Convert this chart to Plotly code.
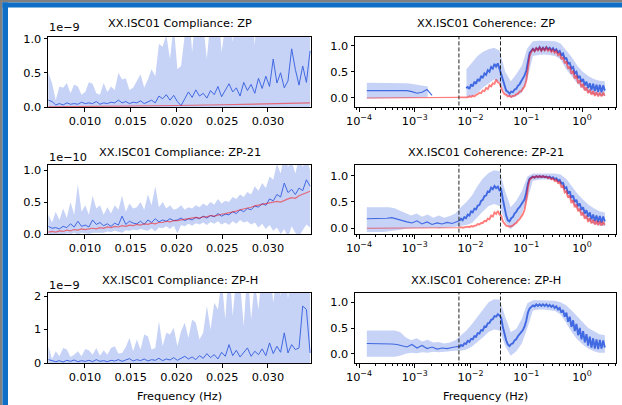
import numpy as np
import plotly.graph_objects as go

W, H = 622, 405
FONT = "DejaVu Sans"

# ---------------- data ----------------
# Compliance frequency grid (Hz) and values (scaled: x1e-9 / x1e-10 / x1e-9)
COMP_FREQ = np.linspace(0.006, 0.0346, 72)

comp_zp_mean = [0.10,0.08,0.03,0.05,0.03,0.06,0.04,0.05,0.04,0.07,
                0.05,0.06,0.05,0.08,0.04,0.06,0.05,0.07,0.06,0.10,
                0.06,0.08,0.05,0.07,0.06,0.09,0.05,0.07,0.10,0.06,
                0.16,0.12,0.18,0.10,0.17,0.08,0.02,0.12,0.22,0.14,
                0.25,0.16,0.20,0.13,0.24,0.18,0.30,0.15,0.24,0.34,
                0.22,0.28,0.16,0.36,0.24,0.33,0.20,0.42,0.27,0.45,
                0.30,0.70,0.35,0.50,0.28,0.38,0.85,0.55,0.32,0.60,
                0.36,0.82]
comp_zp_upper = [0.50,0.35,0.10,0.30,0.28,0.35,0.20,0.33,0.30,0.18,
                 0.22,0.36,0.34,0.20,0.18,0.35,0.22,0.30,0.25,0.50,
                 0.40,0.42,0.25,0.28,0.38,0.48,0.28,0.40,0.55,0.45,
                 0.92,0.88,1.05,0.70,1.20,0.55,0.60,1.30,1.50,0.80,
                 1.40,1.10,1.20,0.70,1.30,1.35,1.50,0.80,1.20,1.60,
                 0.95,1.30,1.25,1.60,1.10,1.50,0.90,1.80,1.70,1.20,
                 1.30,2.50,1.50,2.00,1.10,1.60,3.00,2.00,1.30,2.20,
                 1.40,3.00]
comp_zp_model_freq = [0.006, 0.010, 0.015, 0.020, 0.025, 0.030, 0.0346]
comp_zp_model = [0.003, 0.007, 0.013, 0.022, 0.033, 0.046, 0.060]

comp_zp21_mean = [0.12,0.09,0.10,0.08,0.12,0.10,0.16,0.11,0.20,0.12,
                  0.14,0.11,0.22,0.15,0.18,0.13,0.16,0.12,0.17,0.14,
                  0.28,0.15,0.20,0.17,0.16,0.20,0.15,0.22,0.18,0.24,
                  0.19,0.22,0.20,0.24,0.21,0.22,0.25,0.21,0.24,0.22,
                  0.26,0.24,0.28,0.25,0.29,0.27,0.32,0.28,0.31,0.30,
                  0.35,0.32,0.38,0.35,0.40,0.38,0.44,0.42,0.48,0.45,
                  0.55,0.52,0.62,0.58,0.80,0.65,0.70,0.62,0.72,0.68,
                  0.85,0.75]
comp_zp21_upper = [0.30,0.18,0.35,0.22,0.40,0.25,0.50,0.30,0.78,0.35,
                   0.45,0.30,0.60,0.40,0.45,0.30,0.42,0.32,0.45,0.38,
                   0.60,0.35,0.48,0.40,0.42,0.50,0.38,0.62,0.45,0.75,
                   0.42,0.50,0.40,0.45,0.38,0.40,0.45,0.38,0.42,0.40,
                   0.45,0.42,0.48,0.44,0.50,0.46,0.55,0.48,0.52,0.50,
                   0.58,0.55,0.62,0.58,0.66,0.62,0.75,0.68,0.80,0.72,
                   0.90,0.85,1.10,0.95,1.25,1.05,1.15,0.95,1.20,1.05,
                   1.20,1.00]
comp_zp21_lower = [-0.02,0.00,-0.01,0.00,-0.02,0.01,0.00,0.02,-0.01,0.02,
                   0.01,0.00,0.02,0.03,0.02,0.02,0.04,0.03,0.05,0.04,
                   0.02,0.06,0.05,0.07,0.06,0.08,0.06,0.05,0.09,0.04,
                   0.10,0.09,0.12,0.08,0.13,0.01,0.14,0.12,0.16,0.13,
                   0.17,0.15,0.18,0.14,0.19,0.16,0.20,0.15,0.18,0.14,
                   0.20,0.16,0.22,0.18,0.20,0.15,0.18,0.10,0.16,0.08,
                   0.14,0.05,0.10,0.00,0.08,-0.05,0.12,0.02,-0.03,0.06,
                   0.15,0.10]
comp_zp21_model = [0.03,0.04,0.03,0.05,0.04,0.06,0.05,0.07,0.06,0.08,
                   0.07,0.08,0.09,0.08,0.10,0.09,0.11,0.10,0.12,0.11,
                   0.13,0.12,0.14,0.13,0.15,0.14,0.16,0.15,0.17,0.16,
                   0.18,0.18,0.20,0.19,0.21,0.21,0.22,0.23,0.24,0.24,
                   0.26,0.25,0.27,0.27,0.29,0.28,0.30,0.31,0.32,0.33,
                   0.35,0.36,0.38,0.39,0.41,0.42,0.44,0.45,0.46,0.47,
                   0.48,0.49,0.51,0.50,0.53,0.55,0.57,0.56,0.60,0.62,
                   0.64,0.67]

comp_zph_mean = [0.10,0.06,0.04,0.07,0.03,0.08,0.05,0.09,0.04,0.07,
                 0.05,0.08,0.04,0.10,0.05,0.07,0.04,0.08,0.06,0.10,
                 0.05,0.09,0.13,0.06,0.10,0.07,0.12,0.06,0.10,0.08,
                 0.14,0.07,0.12,0.09,0.16,0.08,0.13,0.20,0.12,0.18,
                 0.10,0.22,0.14,0.28,0.16,0.25,0.12,0.32,0.20,0.55,
                 0.22,0.38,0.18,0.30,0.45,0.20,0.35,0.25,0.42,0.22,
                 0.60,0.28,0.50,0.32,0.90,0.30,0.55,0.40,0.45,1.70,
                 1.60,0.30]
comp_zph_upper = [0.50,0.12,0.35,0.20,0.45,0.40,0.18,0.25,0.35,0.20,
                  0.42,0.38,0.25,0.45,0.22,0.38,0.25,0.45,0.50,0.28,
                  0.30,0.48,0.75,0.35,0.70,0.40,0.85,0.80,0.40,0.45,
                  1.25,0.50,0.90,0.85,1.05,0.50,0.95,1.20,0.75,1.30,
                  1.20,0.70,0.90,1.70,1.00,1.80,1.60,2.50,1.30,3.00,
                  1.40,2.60,2.40,1.10,2.80,1.30,2.40,1.60,2.80,2.60,
                  3.00,1.80,2.70,2.00,3.50,1.90,3.00,2.40,3.20,3.50,
                  3.80,2.50]

# Coherence frequency grids (Hz)
COH_FREQ = np.concatenate([np.logspace(-3.86, -2.24, 19), np.logspace(-2.20, 0.41, 88)])
BAND_FREQ = np.logspace(-3.86, 0.41, 44)
DASH_FREQ = [0.0062, 0.0345]
N_LOW = 19  # number of low-frequency (sparse) samples in COH_FREQ

N = None
coh_zp_mean = ([0.14,0.14,0.14,0.15,0.15,0.15,0.15,0.14,0.14,0.12,0.09,0.11,0.16,0.05,N,N,N,N,N] +
               [N,N,N,N,0.19,0.21,0.17,0.26,0.22,0.31,
                0.27,0.36,0.32,0.42,0.38,0.47,0.44,0.53,0.50,0.59,
                0.56,0.65,0.60,0.66,0.56,0.46,0.33,0.24,0.14,0.12,
                0.08,0.12,0.11,0.16,0.17,0.23,0.26,0.32,0.37,0.43,
                0.52,0.72,0.86,0.90,0.94,0.90,0.95,0.92,0.97,0.91,
                0.96,0.92,0.97,0.93,0.96,0.91,0.95,0.90,0.93,0.87,
                0.90,0.82,0.85,0.75,0.76,0.66,0.67,0.56,0.59,0.47,
                0.50,0.38,0.42,0.31,0.36,0.24,0.31,0.19,0.28,0.15,
                0.27,0.13,0.25,0.12,0.25,0.11,0.24,0.14])
coh_zp_model = ([0.00,0.00,0.00,0.00,0.00,0.00,0.00,0.00,0.00,0.00,0.00,0.00,0.00,0.00,0.00,0.00,0.01,0.00,0.01] +
                [0.01,0.01,0.02,0.01,0.02,0.01,0.03,0.02,0.04,0.03,
                 0.06,0.07,0.10,0.09,0.14,0.13,0.19,0.17,0.24,0.22,
                 0.28,0.27,0.35,0.30,0.28,0.18,0.12,0.07,0.06,0.03,
                 0.04,0.02,0.04,0.04,0.07,0.08,0.12,0.13,0.18,0.22,
                 0.33,0.55,0.80,0.88,0.93,0.89,0.95,0.91,0.96,0.90,
                 0.95,0.91,0.96,0.90,0.94,0.88,0.92,0.86,0.90,0.82,
                 0.85,0.74,0.78,0.66,0.70,0.56,0.60,0.46,0.52,0.37,
                 0.43,0.28,0.34,0.20,0.27,0.14,0.20,0.09,0.16,0.06,
                 0.13,0.04,0.11,0.03,0.10,0.03,0.09,0.04])
coh_zp_upper = [0.29,0.29,0.29,0.29,0.29,0.29,0.28,0.28,0.27,0.25,0.24,0.22,N,N,N,N,N,N,
                0.55,0.68,0.80,0.88,0.93,0.96,0.90,0.50,0.32,0.45,0.62,0.95,1.08,1.09,1.09,
                1.09,1.08,1.04,0.92,0.78,0.62,0.50,0.42,0.36,0.33,0.32]
coh_zp_lower = [-0.01,-0.01,-0.01,-0.01,-0.01,0.00,0.00,0.00,0.00,0.01,0.01,0.02,N,N,N,N,N,N,
                0.02,0.03,0.10,0.20,0.28,0.35,0.30,0.08,0.00,0.03,0.10,0.35,0.80,0.82,0.83,
                0.82,0.80,0.74,0.55,0.42,0.28,0.18,0.10,0.06,0.04,0.04]

coh_zp21_mean = ([0.18,0.18,0.18,0.19,0.19,0.20,0.17,0.14,0.12,0.10,0.14,0.08,0.12,0.07,0.10,0.08,0.11,0.09,0.12] +
                 [0.14,0.18,0.15,0.21,0.19,0.26,0.24,0.32,0.30,0.37,
                  0.36,0.43,0.44,0.52,0.54,0.61,0.62,0.70,0.69,0.77,
                  0.74,0.80,0.76,0.79,0.72,0.74,0.55,0.38,0.24,0.15,
                  0.13,0.19,0.21,0.28,0.31,0.37,0.40,0.45,0.49,0.55,
                  0.68,0.85,0.94,0.96,0.98,0.96,0.99,0.97,0.99,0.97,
                  0.99,0.97,0.98,0.96,0.98,0.95,0.97,0.93,0.95,0.90,
                  0.92,0.85,0.86,0.76,0.78,0.66,0.70,0.58,0.62,0.50,
                  0.54,0.42,0.47,0.35,0.40,0.28,0.34,0.22,0.30,0.17,
                  0.26,0.14,0.24,0.12,0.23,0.11,0.22,0.13])
coh_zp21_model = ([0.00,0.00,0.00,0.00,0.00,0.00,0.00,0.00,0.00,0.00,0.00,0.00,0.00,0.01,0.00,0.01,0.01,0.01,0.01] +
                  [0.01,0.02,0.01,0.02,0.02,0.03,0.02,0.04,0.03,0.05,
                   0.05,0.08,0.07,0.10,0.10,0.14,0.13,0.18,0.17,0.24,
                   0.22,0.30,0.27,0.33,0.26,0.24,0.13,0.08,0.05,0.04,
                   0.03,0.04,0.05,0.08,0.10,0.14,0.17,0.22,0.27,0.35,
                   0.52,0.78,0.92,0.95,0.98,0.96,0.99,0.97,0.99,0.97,
                   0.99,0.97,0.98,0.95,0.97,0.93,0.95,0.90,0.92,0.86,
                   0.88,0.78,0.80,0.68,0.70,0.58,0.62,0.48,0.53,0.40,
                   0.45,0.32,0.37,0.24,0.30,0.18,0.24,0.12,0.19,0.09,
                   0.16,0.07,0.14,0.06,0.13,0.05,0.12,0.06])
coh_zp21_upper = [0.40,0.40,0.40,0.40,0.40,0.38,0.33,0.28,0.24,0.28,0.22,0.26,0.20,0.24,0.20,0.23,0.28,0.40,
                  0.50,0.62,0.80,0.95,1.05,1.10,1.08,0.70,0.40,0.52,0.70,0.98,1.04,1.04,1.04,
                  1.04,1.04,1.02,0.94,0.80,0.66,0.55,0.45,0.38,0.32,0.30]
coh_zp21_lower = [-0.07,-0.07,-0.07,-0.07,-0.06,-0.05,-0.03,-0.01,0.00,0.00,0.00,0.00,0.01,0.00,0.01,0.02,0.03,0.04,
                  0.06,0.10,0.20,0.32,0.42,0.46,0.42,0.12,-0.02,0.10,0.28,0.55,0.90,0.92,0.93,
                  0.92,0.90,0.84,0.66,0.50,0.36,0.24,0.14,0.08,0.05,0.04]

coh_zph_mean = ([0.20,0.20,0.20,0.20,0.20,0.19,0.18,0.16,0.13,0.18,0.11,0.16,0.10,0.13,0.09,0.11,0.10,0.12,0.14] +
                [0.13,0.17,0.15,0.20,0.19,0.25,0.23,0.29,0.28,0.34,
                 0.33,0.40,0.39,0.46,0.45,0.53,0.52,0.59,0.60,0.66,
                 0.67,0.73,0.72,0.77,0.74,0.70,0.52,0.36,0.26,0.18,
                 0.15,0.19,0.20,0.26,0.28,0.34,0.37,0.42,0.46,0.53,
                 0.64,0.80,0.88,0.92,0.94,0.92,0.96,0.93,0.96,0.93,
                 0.96,0.93,0.96,0.92,0.95,0.91,0.94,0.89,0.92,0.86,
                 0.89,0.80,0.85,0.72,0.80,0.62,0.72,0.52,0.65,0.44,
                 0.58,0.36,0.50,0.28,0.44,0.22,0.38,0.16,0.33,0.12,
                 0.30,0.10,0.28,0.09,0.27,0.10,0.26,0.12])
coh_zph_upper = [0.45,0.45,0.45,0.45,0.45,0.45,0.42,0.32,0.26,0.30,0.24,0.27,0.22,0.23,0.20,0.22,0.26,0.35,
                 0.45,0.58,0.72,0.88,1.00,1.06,1.05,0.72,0.42,0.48,0.68,0.98,1.04,1.04,1.04,
                 1.04,1.03,1.00,0.94,0.84,0.72,0.60,0.50,0.44,0.38,0.36]
coh_zph_lower = [-0.06,-0.06,-0.06,-0.06,-0.06,-0.06,-0.04,0.00,0.02,0.01,0.03,0.02,0.04,0.03,0.05,0.05,0.06,0.06,
                 0.08,0.14,0.22,0.32,0.42,0.47,0.45,0.15,-0.04,0.05,0.20,0.50,0.84,0.86,0.86,
                 0.85,0.83,0.76,0.60,0.42,0.28,0.18,0.10,0.05,0.02,0.02]

TITLES_LEFT = ["XX.ISC01 Compliance: ZP", "XX.ISC01 Compliance: ZP-21", "XX.ISC01 Compliance: ZP-H"]
TITLES_RIGHT = ["XX.ISC01 Coherence: ZP", "XX.ISC01 Coherence: ZP-21", "XX.ISC01 Coherence: ZP-H"]
OFFSET_TEXT = ["1e\u22129", "1e\u221210", "1e\u22129"]
COMP_YRANGE = [[0, 1.03], [0, 1.09], [0, 2.09]]
COH_YRANGE = [[-0.173, 1.173], [-0.11, 1.21], [-0.18, 1.18]]
COMP_YTICKS = [[0, 0.5, 1.0], [0, 0.5, 1.0], [0, 1, 2]]
COMP_YFMT = [".1f", ".1f", "d"]
COMP_XTICKS = [0.010, 0.015, 0.020, 0.025, 0.030]
LOG_TICKS = [1e-4, 1e-3, 1e-2, 1e-1, 1e0]
LOG_TICKTEXT = ["10<sup>\u22124</sup>", "10<sup>\u22123</sup>", "10<sup>\u22122</sup>",
                "10<sup>\u22121</sup>", "10<sup>0</sup>"]

# ---------------- style ----------------
BLUE = "#4169E1"
BAND = "rgba(65,105,225,0.30)"
RED = "rgba(255,0,0,0.5)"

ROWS_PX = [(36.5, 107), (164.5, 234), (293, 363)]
LEFT_PX = (48, 311)
RIGHT_PX = (355, 616)


def fx(px):
    return px / W


def fy(px):
    return 1 - px / H


fig = go.Figure()


def add(tr, ax):
    tr.update(xaxis="x" + ("" if ax == 1 else str(ax)), yaxis="y" + ("" if ax == 1 else str(ax)),
              showlegend=False, hoverinfo="skip")
    fig.add_trace(tr)


def band_polys(x, lo, hi, ax):
    seg = []
    segs = []
    for xi, l, h in zip(x, lo, hi):
        if l is None or h is None:
            if seg:
                segs.append(seg)
                seg = []
        else:
            seg.append((xi, l, h))
    if seg:
        segs.append(seg)
    for s in segs:
        xs = [p[0] for p in s] + [p[0] for p in s[::-1]]
        ys = [p[2] for p in s] + [p[1] for p in s[::-1]]
        add(go.Scatter(x=xs, y=ys, fill="toself", fillcolor=BAND, mode="lines",
                       line=dict(width=0)), ax)


def split_line(values, color, ax):
    # sparse low-frequency part drawn thin, dense high-frequency part thicker
    add(go.Scatter(x=COH_FREQ[:N_LOW + 1], y=values[:N_LOW + 1], mode="lines",
                   line=dict(color=color, width=1.1), connectgaps=False), ax)
    add(go.Scatter(x=COH_FREQ[N_LOW:], y=values[N_LOW:], mode="lines",
                   line=dict(color=color, width=1.9), connectgaps=False), ax)


# Compliance panels (axes 1, 3, 5)
add(go.Scatter(x=COMP_FREQ, y=comp_zp_upper, fill="tozeroy", fillcolor=BAND, mode="lines",
               line=dict(width=0)), 1)
add(go.Scatter(x=COMP_FREQ, y=comp_zp_mean, mode="lines", line=dict(color=BLUE, width=1)), 1)
add(go.Scatter(x=comp_zp_model_freq, y=comp_zp_model, mode="lines", line=dict(color=RED, width=1.2)), 1)

band_polys(COMP_FREQ, comp_zp21_lower, comp_zp21_upper, 3)
add(go.Scatter(x=COMP_FREQ, y=comp_zp21_mean, mode="lines", line=dict(color=BLUE, width=1)), 3)
add(go.Scatter(x=COMP_FREQ, y=comp_zp21_model, mode="lines", line=dict(color=RED, width=1.2)), 3)

add(go.Scatter(x=COMP_FREQ, y=comp_zph_upper, fill="tozeroy", fillcolor=BAND, mode="lines",
               line=dict(width=0)), 5)
add(go.Scatter(x=COMP_FREQ, y=comp_zph_mean, mode="lines", line=dict(color=BLUE, width=1)), 5)

# Coherence panels (axes 2, 4, 6)
coh_sets = [(2, coh_zp_mean, coh_zp_lower, coh_zp_upper, coh_zp_model),
            (4, coh_zp21_mean, coh_zp21_lower, coh_zp21_upper, coh_zp21_model),
            (6, coh_zph_mean, coh_zph_lower, coh_zph_upper, None)]
for i, (ax, mean, lo, hi, model) in enumerate(coh_sets):
    band_polys(BAND_FREQ, lo, hi, ax)
    split_line(mean, BLUE, ax)
    if model is not None:
        split_line(model, RED, ax)
    yr = COH_YRANGE[i]
    for f in DASH_FREQ:
        add(go.Scatter(x=[f, f], y=[yr[0] - 1, yr[1] + 1], mode="lines",
                       line=dict(color="#222222", width=1, dash="4px,2px")), ax)

# ---------------- layout ----------------
tickfont = dict(family=FONT, size=11.3, color="black")
common = dict(showline=True, linecolor="black", linewidth=1, mirror=True, ticks="outside",
              ticklen=3.5, tickwidth=0.8, tickcolor="black", showgrid=False, zeroline=False,
              tickfont=tickfont, fixedrange=True, automargin=False)

layout = dict(width=W, height=H, margin=dict(l=0, r=0, t=0, b=0),
              paper_bgcolor="white", plot_bgcolor="white", showlegend=False,
              font=dict(family=FONT, size=11.3, color="black"))

annotations = []
for r in range(3):
    top, bot = ROWS_PX[r]
    yd = [fy(bot), fy(top)]
    axl = 2 * r + 1
    axr = 2 * r + 2
    nl = "" if axl == 1 else str(axl)
    nr = str(axr)
    layout["xaxis" + nl] = dict(common, domain=[fx(LEFT_PX[0]), fx(LEFT_PX[1])], anchor="y" + nl,
                                range=[0.00596, 0.0347], tickvals=COMP_XTICKS, tickformat=".3f")
    layout["yaxis" + nl] = dict(common, domain=yd, anchor="x" + nl, range=COMP_YRANGE[r],
                                tickvals=COMP_YTICKS[r], tickformat=COMP_YFMT[r])
    minor_vals = [m * 10.0 ** e for e in range(-5, 1) for m in range(2, 10)]
    layout["xaxis" + nr] = dict(common, domain=[fx(RIGHT_PX[0]), fx(RIGHT_PX[1])], anchor="y" + nr,
                                type="log", range=[-4.072, 0.61], tickvals=LOG_TICKS,
                                ticktext=LOG_TICKTEXT,
                                minor=dict(ticks="outside", ticklen=2, tickwidth=0.6,
                                           tickcolor="black", tickvals=minor_vals))
    layout["yaxis" + nr] = dict(common, domain=yd, anchor="x" + nr, range=COH_YRANGE[r],
                                tickvals=[0, 0.5, 1.0], tickformat=".1f")

    title_y = [24, 152, 280][r]
    annotations.append(dict(text=TITLES_LEFT[r], x=fx((LEFT_PX[0] + LEFT_PX[1]) / 2), y=fy(title_y),
                            xref="paper", yref="paper", showarrow=False, xanchor="center",
                            yanchor="middle", font=dict(family=FONT, size=11.3, color="black")))
    annotations.append(dict(text=TITLES_RIGHT[r], x=fx((RIGHT_PX[0] + RIGHT_PX[1]) / 2), y=fy(title_y),
                            xref="paper", yref="paper", showarrow=False, xanchor="center",
                            yanchor="middle", font=dict(family=FONT, size=11.3, color="black")))
    off_y = [28, 157, 285][r]
    annotations.append(dict(text=OFFSET_TEXT[r], x=fx(LEFT_PX[0] - 1), y=fy(off_y), xref="paper",
                            yref="paper", showarrow=False, xanchor="left", yanchor="middle",
                            font=dict(family=FONT, size=11.3, color="black")))

for (x0, x1) in [LEFT_PX, RIGHT_PX]:
    annotations.append(dict(text="Frequency (Hz)", x=fx((x0 + x1) / 2), y=fy(396.5), xref="paper",
                            yref="paper", showarrow=False, xanchor="center", yanchor="middle",
                            font=dict(family=FONT, size=11.3, color="black")))

layout["annotations"] = annotations

# window frame (gray outer edge, blue border) along top and left
GRAY = "#808080"
FRAME_BLUE = "#0f6fc6"
layout["shapes"] = [
    dict(type="rect", xref="paper", yref="paper", x0=0, x1=1, y0=fy(2.5), y1=1,
         fillcolor=GRAY, line=dict(width=0)),
    dict(type="rect", xref="paper", yref="paper", x0=0, x1=fx(2.5), y0=0, y1=1,
         fillcolor=GRAY, line=dict(width=0)),
    dict(type="rect", xref="paper", yref="paper", x0=fx(2.5), x1=1, y0=fy(7.5), y1=fy(2.5),
         fillcolor=FRAME_BLUE, line=dict(width=0)),
    dict(type="rect", xref="paper", yref="paper", x0=fx(2.5), x1=fx(8), y0=0, y1=fy(2.5),
         fillcolor=FRAME_BLUE, line=dict(width=0)),
]

fig.update_layout(**layout)
fig.write_html("out.html", config={"displayModeBar": False},
               post_script="document.body.style.margin='0';document.body.style.overflow='hidden';")
